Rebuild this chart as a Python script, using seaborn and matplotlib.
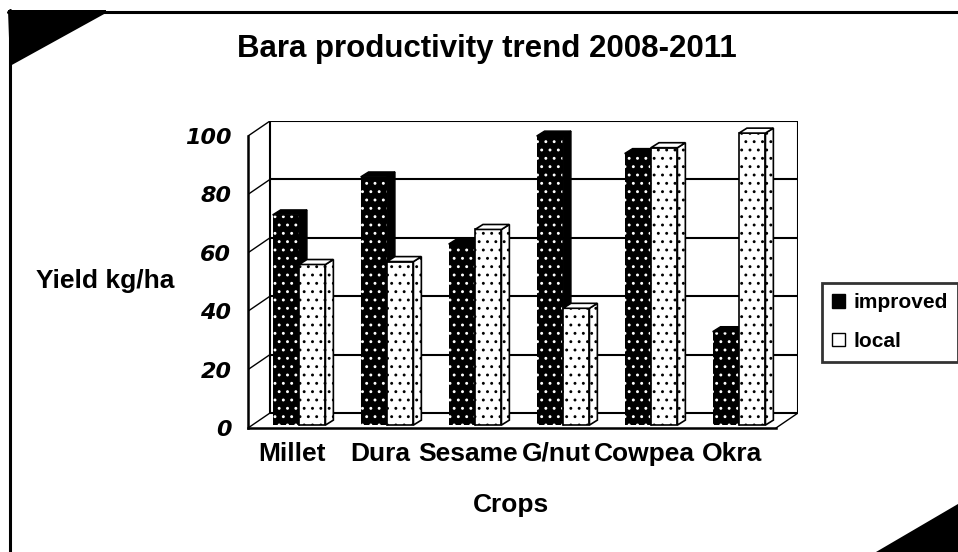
import numpy as np
import pandas as pd
import matplotlib
matplotlib.use("Agg")
import matplotlib.pyplot as plt
from matplotlib.patches import Polygon, Patch
from matplotlib.lines import Line2D
import seaborn as sns

# data
crops = ["Millet", "Dura", "Sesame", "G/nut", "Cowpea", "Okra"]
improved = [72, 85, 62, 99, 93, 32]
local = [55, 56, 67, 40, 95, 100]
yticks = [0, 20, 40, 60, 80, 100]
varieties = ["improved", "local"]

df = pd.DataFrame({
    "crop": crops * 2,
    "yield": improved + local,
    "variety": ["improved"] * len(crops) + ["local"] * len(crops),
})

sns.set_style("white")
plt.rcParams["font.family"] = ["Liberation Sans", "DejaVu Sans"]
plt.rcParams["font.weight"] = "bold"
plt.rcParams["text.color"] = "black"
plt.rcParams["xtick.color"] = "black"
plt.rcParams["ytick.color"] = "black"
plt.rcParams["axes.labelcolor"] = "black"
plt.rcParams["hatch.linewidth"] = 0.9

W, H = 958, 552
def fx(px):
    return px / W
def fy(py):
    return 1 - py / H

fig = plt.figure(figsize=(W / 100, H / 100), dpi=100)
ax = fig.add_axes([fx(248), fy(428), fx(798) - fx(248), fy(121) - fy(428)])

sns.barplot(data=df, x="crop", y="yield", hue="variety", order=crops,
            hue_order=varieties, palette={"improved": "black", "local": "white"},
            width=0.6, saturation=1, legend=False, ax=ax)

# pseudo 3d geometry (in data units)
wall_dx, wall_dy = 0.25, 5.14
bar_dx, bar_dy = 0.09, 1.7
shift_x, shift_y = 0.08, 1.0

ax.set_xlim(-0.5, len(crops) - 0.5 + wall_dx)
ax.set_ylim(0, 100 + wall_dy)

for i, cont in enumerate(ax.containers):
    z = 3 + i
    for p in cont.patches:
        x0 = p.get_x() + shift_x
        w = p.get_width()
        h = p.get_height()
        y0 = shift_y
        p.set_x(x0)
        p.set_y(y0)
        p.set_zorder(z)
        side = [(x0 + w, y0), (x0 + w + bar_dx, y0 + bar_dy),
                (x0 + w + bar_dx, y0 + h + bar_dy), (x0 + w, y0 + h)]
        top = [(x0, y0 + h), (x0 + bar_dx, y0 + h + bar_dy),
               (x0 + w + bar_dx, y0 + h + bar_dy), (x0 + w, y0 + h)]
        if varieties[i] == "improved":
            p.set_facecolor("black")
            p.set_edgecolor("white")
            p.set_linewidth(0)
            p.set_hatch("..")
            ax.add_patch(Polygon(side, closed=True, fc="black", ec="black", lw=1, zorder=z))
            ax.add_patch(Polygon(top, closed=True, fc="black", ec="black", lw=1, zorder=z))
        else:
            p.set_facecolor("white")
            p.set_edgecolor("black")
            p.set_linewidth(1.2)
            p.set_hatch("..")
            ax.add_patch(Polygon(side, closed=True, fc="white", ec="black", lw=1.2,
                                 hatch="..", zorder=z))
            ax.add_patch(Polygon(top, closed=True, fc="white", ec="black", lw=1.2, zorder=z))

# back wall, gridlines and left wall
x_left, x_right = -0.5, len(crops) - 0.5
for t in yticks:
    ax.plot([x_left + wall_dx, x_right + wall_dx], [t + wall_dy, t + wall_dy],
            color="black", lw=1.5, zorder=1)
    ax.plot([x_left, x_left + wall_dx], [t, t + wall_dy], color="black", lw=1.0, zorder=1)
ax.plot([x_left + wall_dx, x_left + wall_dx], [wall_dy, 100 + wall_dy], color="black", lw=1.5, zorder=1)
ax.plot([x_right + wall_dx, x_right + wall_dx], [wall_dy, 100 + wall_dy], color="black", lw=1.5, zorder=1)
ax.plot([x_right, x_right + wall_dx], [0, wall_dy], color="black", lw=1.0, zorder=1)

for s in ["top", "right"]:
    ax.spines[s].set_visible(False)
ax.spines["left"].set_bounds(0, 100)
ax.spines["bottom"].set_bounds(x_left, x_right)
for s in ["left", "bottom"]:
    ax.spines[s].set_linewidth(1.8)
    ax.spines[s].set_color("black")
    ax.spines[s].set_zorder(6)

ax.set_yticks(yticks)
ax.set_yticklabels([str(t) for t in yticks], family="DejaVu Sans",
                   weight="bold", style="italic", fontsize=16)
ax.tick_params(axis="y", direction="out", length=4, width=1.5, pad=8, color="black")

ax.set_xticks(range(len(crops)))
ax.set_xticklabels(crops, fontsize=19, weight="bold")
ax.set_xticks(np.arange(len(crops) + 1) - 0.5, minor=True)
ax.tick_params(axis="x", which="major", length=0, pad=10)
ax.tick_params(axis="x", which="minor", direction="out", length=5, width=1.5, color="black")
ax.set_xlabel("")
ax.set_ylabel("")
ax.patch.set_alpha(0)

fig.text(fx(487), fy(57), "Bara productivity trend 2008-2011", fontsize=22.5,
         weight="bold", ha="center", va="baseline")
fig.text(fx(105), fy(281), "Yield kg/ha", fontsize=19, weight="bold", ha="center", va="center")
fig.text(fx(511), fy(505), "Crops", fontsize=19, weight="bold", ha="center", va="center")

handles = [Patch(fc="black", ec="black", lw=1, label="improved"),
           Patch(fc="white", ec="black", lw=1, label="local")]
leg = fig.legend(handles=handles, loc="upper left", bbox_to_anchor=(fx(822), fy(283)),
                 frameon=True, fancybox=False, fontsize=15, borderpad=0.5,
                 labelspacing=0.95, handlelength=0.6, handleheight=0.6,
                 handletextpad=0.4, borderaxespad=0)
leg.get_frame().set_edgecolor("black")
leg.get_frame().set_linewidth(2)
for t in leg.get_texts():
    t.set_weight("bold")
    t.set_color("black")

# chart frame with corner decorations
fig.add_artist(Line2D([fx(8), fx(958)], [fy(12), fy(12)], color="black", lw=2.2))
fig.add_artist(Line2D([fx(9.5), fx(9.5)], [fy(10), fy(552)], color="black", lw=2.2))
fig.add_artist(Polygon([(fx(8), fy(10)), (fx(106), fy(10)), (fx(106), fy(13)), (fx(10), fy(66))],
                       closed=True, fc="black", ec="none", transform=fig.transFigure))
fig.add_artist(Polygon([(fx(958), fy(504)), (fx(958), fy(552)), (fx(876), fy(552))],
                       closed=True, fc="black", ec="none", transform=fig.transFigure))

fig.savefig("out.png", dpi=100, facecolor="white")
